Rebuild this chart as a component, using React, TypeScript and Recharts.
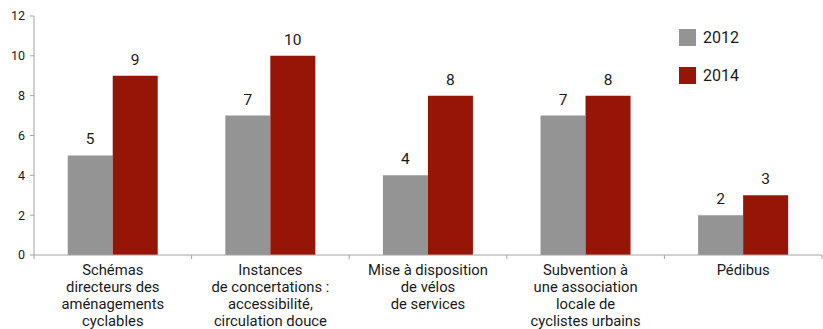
import React from 'react';
import { BarChart, Bar, XAxis, YAxis, LabelList, Legend } from 'recharts';

const categories = [
  'Schémas\ndirecteurs des\naménagements\ncyclables',
  'Instances\nde concertations :\naccessibilité,\ncirculation douce',
  'Mise à disposition\nde vélos\nde services',
  'Subvention à\nune association\nlocale de\ncyclistes urbains',
  'Pédibus',
];
const values2012 = [5, 7, 4, 7, 2];
const values2014 = [9, 10, 8, 8, 3];
const yTicks = [0, 2, 4, 6, 8, 10, 12];
const seriesNames = ['2012', '2014'];

const GRAY = '#949494';
const RED = '#971507';
const AXIS = '#a3a3a3';
const FONT = 'Roboto, sans-serif';

const data = categories.map((c, i) => ({
  name: c,
  v2012: values2012[i],
  v2014: values2014[i],
}));

const CatTick = (props: any) => {
  const { x, y, payload, index, visibleTicksCount } = props;
  const half = payload.offset || 0;
  const lines = String(payload.value).split('\n');
  const ty = y - 2;
  return (
    <g>
      <line x1={x - half} x2={x - half} y1={ty - 4} y2={ty} stroke={AXIS} />
      {index === visibleTicksCount - 1 && (
        <line x1={x + half} x2={x + half} y1={ty - 4} y2={ty} stroke={AXIS} />
      )}
      <text x={x} y={ty} textAnchor="middle" fontFamily={FONT} fontSize={14.8} fill="#1a1a1a">
        {lines.map((l, i) => (
          <tspan key={i} x={x} y={ty + 15.5 + i * 17}>
            {l}
          </tspan>
        ))}
      </text>
    </g>
  );
};

const LegendContent = () => (
  <div style={{ fontFamily: FONT, width: 100 }}>
    {[GRAY, RED].map((c, i) => (
      <div key={i} style={{ display: 'flex', alignItems: 'center', height: 17, marginBottom: 21 }}>
        <div style={{ width: 17, height: 17, background: c }} />
        <span style={{ marginLeft: 7, fontSize: 16, color: '#1a1a1a' }}>{seriesNames[i]}</span>
      </div>
    ))}
  </div>
);

export default function App() {
  return (
    <div style={{ position: 'absolute', left: 0, top: 0, background: '#fff' }}>
      <BarChart
        width={823}
        height={329}
        data={data}
        margin={{ top: 16, right: 1, bottom: 4, left: 0 }}
        barCategoryGap="21.4%"
        barGap={0}
      >
        <XAxis
          dataKey="name"
          interval={0}
          height={70}
          tickLine={false}
          tickSize={4}
          tickMargin={2}
          axisLine={{ stroke: AXIS }}
          tick={<CatTick />}
        />
        <YAxis
          domain={[0, 12]}
          ticks={yTicks}
          width={34}
          tickSize={4}
          tickMargin={5}
          axisLine={{ stroke: AXIS }}
          tickLine={{ stroke: AXIS }}
          tick={{ fontFamily: FONT, fontSize: 12.5, fill: '#1a1a1a' }}
        />
        <Legend
          content={<LegendContent />}
          wrapperStyle={{ position: 'absolute', left: 679, top: 29, width: 0, height: 0, overflow: 'visible' }}
        />
        <Bar dataKey="v2012" fill={GRAY} isAnimationActive={false}>
          <LabelList dataKey="v2012" position="top" offset={11} style={{ fontFamily: FONT, fontSize: 15.5, fill: '#1a1a1a' }} />
        </Bar>
        <Bar dataKey="v2014" fill={RED} isAnimationActive={false}>
          <LabelList dataKey="v2014" position="top" offset={11} style={{ fontFamily: FONT, fontSize: 15.5, fill: '#1a1a1a' }} />
        </Bar>
      </BarChart>
    </div>
  );
}
